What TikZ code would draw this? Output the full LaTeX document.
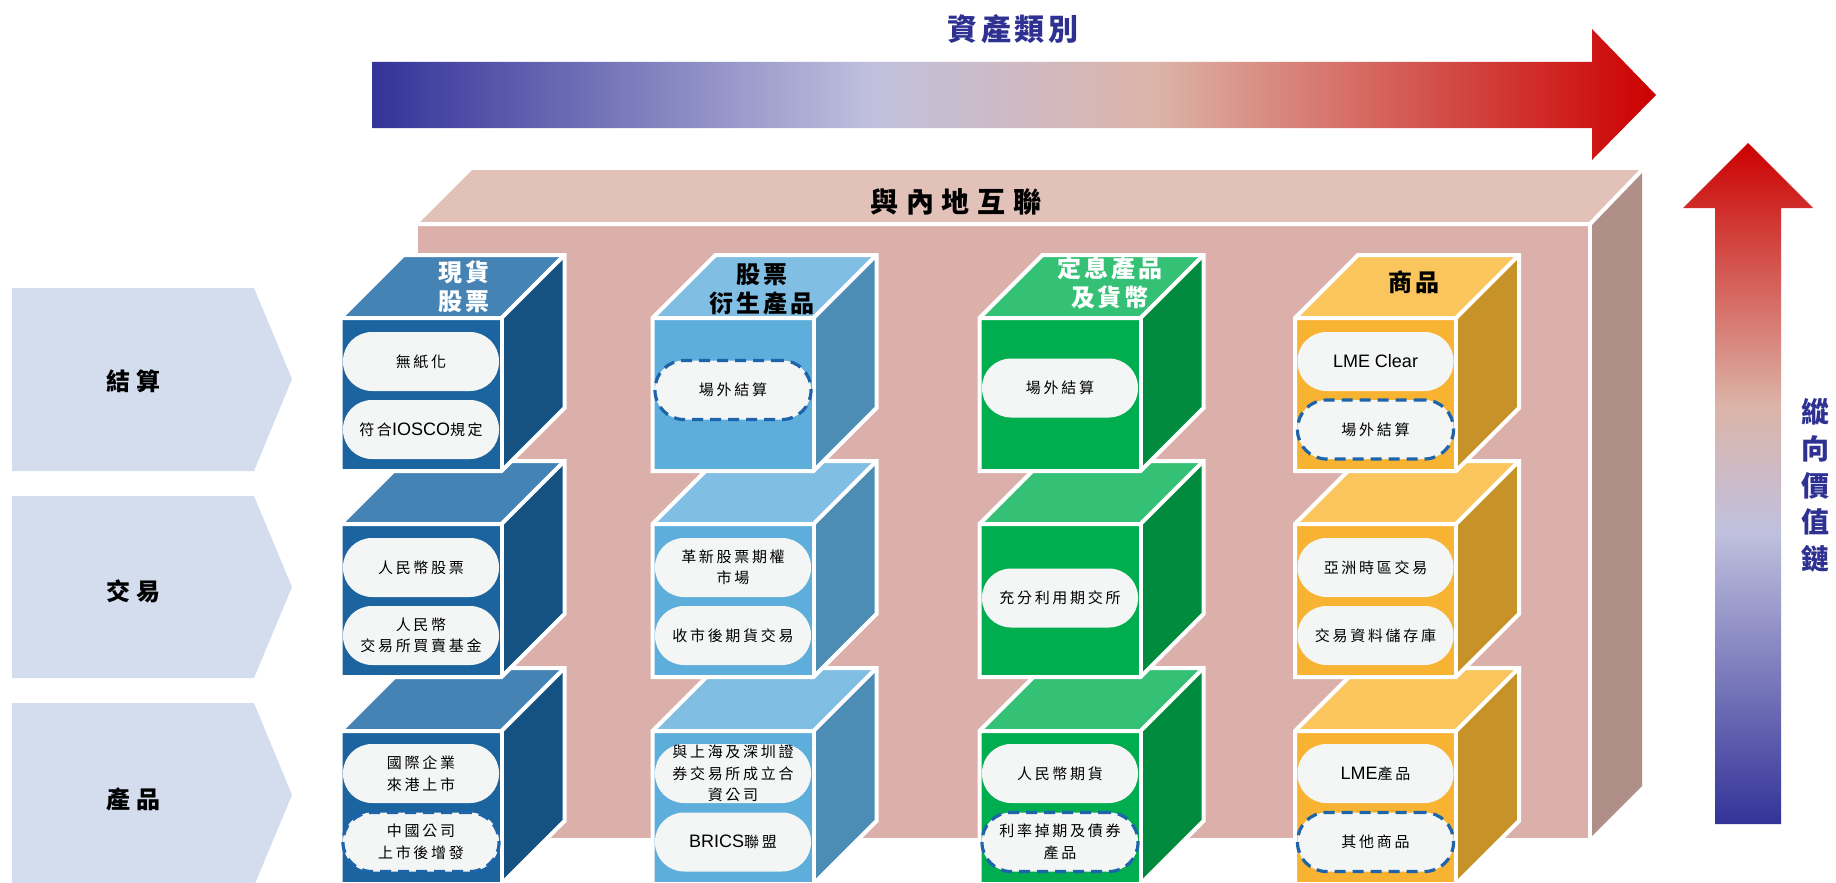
\documentclass[tikz,border=0pt]{standalone}
\usepackage{fontspec}
\newfontfamily\cjkp{Noto Sans CJK TC}[LetterSpace=18]
\newfontfamily\cjkh{Noto Sans CJK TC}[LetterSpace=12]
\newfontfamily\cjkc{Noto Sans CJK TC}[LetterSpace=25]
\newfontfamily\cjkt{Noto Sans CJK TC}[LetterSpace=28]
\newfontfamily\cjkn{Noto Sans CJK TC}
\newfontfamily\latf{Liberation Sans}
\newcommand{\ltn}[1]{{\latf\fontsize{18}{21.5}\selectfont #1}}

\definecolor{gblue}{HTML}{333399}
\definecolor{glav}{HTML}{C0C0DE}
\definecolor{gpink}{HTML}{DCB4A8}
\definecolor{gred}{HTML}{CC0000}
\definecolor{titleblue}{HTML}{2E3192}
\definecolor{chev}{HTML}{D4DDEE}
\definecolor{plattop}{HTML}{E2C1B9}
\definecolor{platfront}{HTML}{DBB0AA}
\definecolor{platside}{HTML}{B08F88}
\definecolor{bluT}{HTML}{4583B5}
\definecolor{bluF}{HTML}{1B64A0}
\definecolor{bluS}{HTML}{155282}
\definecolor{skyT}{HTML}{80BEE3}
\definecolor{skyF}{HTML}{5EAEDB}
\definecolor{skyS}{HTML}{4D8DB5}
\definecolor{grnT}{HTML}{34C175}
\definecolor{grnF}{HTML}{00AD4F}
\definecolor{grnS}{HTML}{008B3E}
\definecolor{ylwT}{HTML}{FAC55C}
\definecolor{ylwF}{HTML}{F9B333}
\definecolor{ylwS}{HTML}{C79329}
\definecolor{pillfill}{HTML}{F4F6F6}
\definecolor{dashblue}{HTML}{1E64AA}

\pgfdeclarehorizontalshading{hgrad}{100bp}{color(0bp)=(gblue); color(25bp)=(gblue); color(44.5bp)=(glav); color(55.5bp)=(gpink); color(75bp)=(gred); color(100bp)=(gred)}
\pgfdeclareverticalshading{vgrad}{100bp}{color(0bp)=(gblue); color(25bp)=(gblue); color(46.5bp)=(glav); color(55.7bp)=(gpink); color(75bp)=(gred); color(100bp)=(gred)}

% cube: #1,#2 = front top-left; #3 front, #4 top, #5 side colour
\newcommand{\drawcube}[5]{%
  \fill[#5] (#1,#2) ++(161,0) -- ++(63,-63) -- ++(0,153) -- ++(-63,63) -- cycle;
  \fill[#4] (#1,#2) -- ++(161,0) -- ++(63,-63) -- ++(-161,0) -- cycle;
  \fill[#3] (#1,#2) rectangle ++(161,153);
  \draw[edgeline] (#1,#2) ++(0,153) -- ++(0,-153) -- ++(63,-63) -- ++(161,0) -- ++(0,153) -- ++(-63,63) -- cycle;
  \draw[edgeline] (#1,#2) -- ++(161,0) -- ++(63,-63);
  \draw[edgeline] (#1,#2) ++(161,0) -- ++(0,153);
}

\tikzset{
  edgeline/.style={draw=white, line width=4pt, line join=miter},
  pill/.style={fill=pillfill, rounded corners=29pt, minimum width=156pt, minimum height=59pt,
    inner sep=0pt, align=center, font=\cjkp\fontsize{15}{21.5}\selectfont, text=black},
  dpill/.style={pill, draw=dashblue, line width=3.2pt, dash pattern=on 11pt off 7pt},
  headtxt/.style={align=center, inner sep=0pt, font=\cjkh\bfseries\fontsize{24}{29}\selectfont},
  chevtxt/.style={inner sep=0pt, font=\cjkc\bfseries\fontsize{24}{29}\selectfont, text=black},
  chevshape/.style={fill=chev},
}

\begin{document}
\begin{tikzpicture}[x=1pt,y=-1pt]
\useasboundingbox (0,0) rectangle (1836,883);
\clip (0,0) rectangle (1836,883);
\fill[white] (0,0) rectangle (1836,883);

% top arrow
\shade[shading=hgrad] (372,62) -- (1592,62) -- (1592,29) -- (1656,95) -- (1592,160) -- (1592,128) -- (372,128) -- cycle;
\node[inner sep=0pt, text=titleblue, font=\cjkh\bfseries\fontsize{30}{34}\selectfont] (ttl) at (1013,29) {資產類別};

% right vertical arrow
\shade[shading=vgrad] (1715,824) -- (1715,208) -- (1683,208) -- (1748,143) -- (1813,208) -- (1781,208) -- (1781,824) -- cycle;
\node[inner sep=0pt, align=center, text=titleblue, font=\cjkn\bfseries\fontsize{28}{36.75}\selectfont] (vtl) at (1815,485.5) {縱\\向\\價\\值\\鏈};

% left chevrons
\fill[chevshape] (12,288) -- (254,288) -- (292,379) -- (254,471) -- (12,471) -- cycle;
\fill[chevshape] (12,496) -- (254,496) -- (292,587) -- (254,678) -- (12,678) -- cycle;
\fill[chevshape] (12,703) -- (254,703) -- (292,795) -- (254,886) -- (12,886) -- cycle;
\node[chevtxt] (ch1) at (133,381) {結算};
\node[chevtxt] (ch2) at (133,591) {交易};
\node[chevtxt] (ch3) at (133,799) {產品};

% platform
\fill[plattop] (418,224) -- (1590,224) -- (1642,170) -- (472,170) -- cycle;
\fill[platside] (1590,224) -- (1642,170) -- (1642,786) -- (1590,838) -- cycle;
\fill[platfront] (418,224) rectangle (1590,838);
\draw[edgeline] (418,224) -- (1590,224) -- (1642,170);
\draw[edgeline] (1590,224) -- (1590,838);
\node[inner sep=0pt, font=\cjkt\bfseries\fontsize{28}{34}\selectfont] (plt) at (956,201.5) {與內地互聯};

% cubes: row 3, row 2, row 1
\drawcube{340.5}{731}{bluF}{bluT}{bluS}
\drawcube{652.5}{731}{skyF}{skyT}{skyS}
\drawcube{979.5}{731}{grnF}{grnT}{grnS}
\drawcube{1295}{731}{ylwF}{ylwT}{ylwS}
\drawcube{340.5}{524}{bluF}{bluT}{bluS}
\drawcube{652.5}{524}{skyF}{skyT}{skyS}
\drawcube{979.5}{524}{grnF}{grnT}{grnS}
\drawcube{1295}{524}{ylwF}{ylwT}{ylwS}
\drawcube{340.5}{318}{bluF}{bluT}{bluS}
\drawcube{652.5}{318}{skyF}{skyT}{skyS}
\drawcube{979.5}{318}{grnF}{grnT}{grnS}
\drawcube{1295}{318}{ylwF}{ylwT}{ylwS}

% column headers
\node[headtxt, text=white] (h1) at (464,287) {現貨\\股票};
\node[headtxt, text=black] (h2) at (762,289.5) {股票\\衍生產品};
\node[headtxt, text=white] (h3) at (1110,283) {定息產品\\及貨幣};
\node[headtxt, text=black] (h4) at (1414,282.5) {商品};

% row 1 pills
\node[pill] (p11a) at (421,361.5) {無紙化};
\node[pill] (p11b) at (421,429.5) {符合\ltn{IOSCO}規定};
\node[dpill] (p12) at (733,390) {場外結算};
\node[pill] (p13) at (1060,388) {場外結算};
\node[pill] (p14a) at (1375.5,361.5) {\ltn{LME Clear}};
\node[dpill] (p14b) at (1375.5,429.5) {場外結算};

% row 2 pills
\node[pill] (p21a) at (421,567.5) {人民幣股票};
\node[pill] (p21b) at (421,635.5) {人民幣\\交易所買賣基金};
\node[pill] (p22a) at (733,567.5) {革新股票期權\\市場};
\node[pill] (p22b) at (733,635.5) {收市後期貨交易};
\node[pill] (p23) at (1060,598) {充分利用期交所};
\node[pill] (p24a) at (1375.5,567.5) {亞洲時區交易};
\node[pill] (p24b) at (1375.5,635.5) {交易資料儲存庫};

% row 3 pills
\node[pill] (p31a) at (421,773.5) {國際企業\\來港上市};
\node[dpill] (p31b) at (421,842) {中國公司\\上市後增發};
\node[pill] (p32a) at (733,773.5) {與上海及深圳證\\券交易所成立合\\資公司};
\node[pill] (p32b) at (733,842) {\ltn{BRICS}聯盟};
\node[pill] (p33a) at (1060,773.5) {人民幣期貨};
\node[dpill] (p33b) at (1060,842) {利率掉期及債券\\產品};
\node[pill] (p34a) at (1375.5,773.5) {\ltn{LME}產品};
\node[dpill] (p34b) at (1375.5,842) {其他商品};
\end{tikzpicture}
\end{document}
